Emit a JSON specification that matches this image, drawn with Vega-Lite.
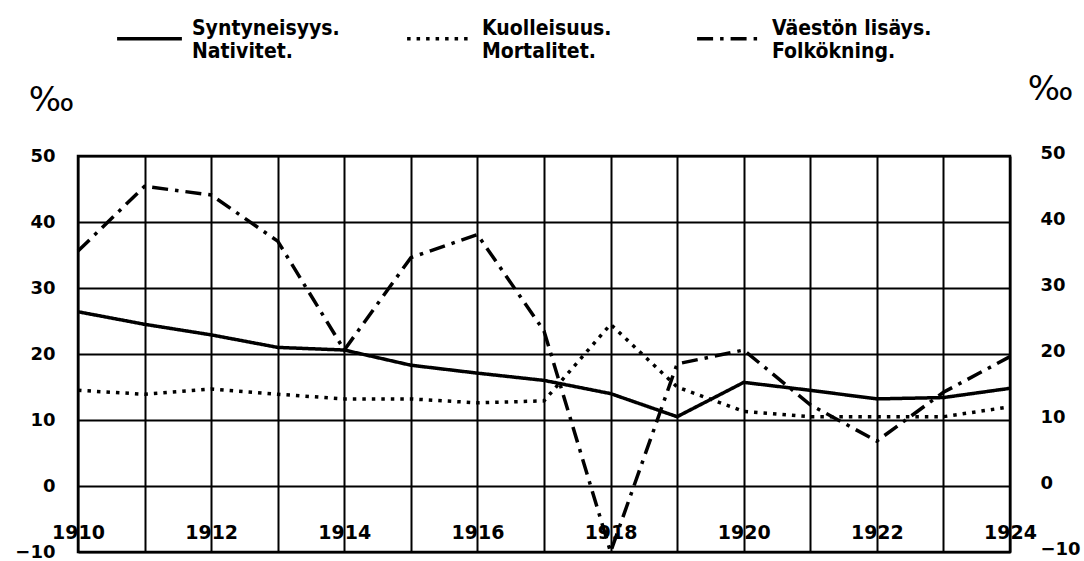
{
  "$schema": "https://vega.github.io/schema/vega-lite/v6.json",
  "width": 932,
  "height": 396,
  "autosize": {"type": "none"},
  "padding": {"left": 78, "top": 156, "right": 74, "bottom": 9},
  "background": "white",
  "config": {"view": {"stroke": "black", "strokeWidth": 2.5}, "font": "DejaVu Sans"},
  "data": {"values": [
    {"year": 1910, "serie": "Nativitet.", "value": 26.4},
    {"year": 1911, "serie": "Nativitet.", "value": 24.5},
    {"year": 1912, "serie": "Nativitet.", "value": 22.9},
    {"year": 1913, "serie": "Nativitet.", "value": 21.0},
    {"year": 1914, "serie": "Nativitet.", "value": 20.6},
    {"year": 1915, "serie": "Nativitet.", "value": 18.3},
    {"year": 1916, "serie": "Nativitet.", "value": 17.1},
    {"year": 1917, "serie": "Nativitet.", "value": 16.0},
    {"year": 1918, "serie": "Nativitet.", "value": 14.0},
    {"year": 1919, "serie": "Nativitet.", "value": 10.5},
    {"year": 1920, "serie": "Nativitet.", "value": 15.7},
    {"year": 1921, "serie": "Nativitet.", "value": 14.5},
    {"year": 1922, "serie": "Nativitet.", "value": 13.2},
    {"year": 1923, "serie": "Nativitet.", "value": 13.4},
    {"year": 1924, "serie": "Nativitet.", "value": 14.8},
    {"year": 1910, "serie": "Mortalitet.", "value": 14.5},
    {"year": 1911, "serie": "Mortalitet.", "value": 13.9},
    {"year": 1912, "serie": "Mortalitet.", "value": 14.7},
    {"year": 1913, "serie": "Mortalitet.", "value": 13.9},
    {"year": 1914, "serie": "Mortalitet.", "value": 13.2},
    {"year": 1915, "serie": "Mortalitet.", "value": 13.2},
    {"year": 1916, "serie": "Mortalitet.", "value": 12.6},
    {"year": 1917, "serie": "Mortalitet.", "value": 12.9},
    {"year": 1918, "serie": "Mortalitet.", "value": 24.5},
    {"year": 1919, "serie": "Mortalitet.", "value": 15.0},
    {"year": 1920, "serie": "Mortalitet.", "value": 11.3},
    {"year": 1921, "serie": "Mortalitet.", "value": 10.5},
    {"year": 1922, "serie": "Mortalitet.", "value": 10.5},
    {"year": 1923, "serie": "Mortalitet.", "value": 10.5},
    {"year": 1924, "serie": "Mortalitet.", "value": 12.0},
    {"year": 1910, "serie": "Folkökning.", "value": 35.6},
    {"year": 1911, "serie": "Folkökning.", "value": 45.4},
    {"year": 1912, "serie": "Folkökning.", "value": 44.1},
    {"year": 1913, "serie": "Folkökning.", "value": 37.1},
    {"year": 1914, "serie": "Folkökning.", "value": 20.6},
    {"year": 1915, "serie": "Folkökning.", "value": 34.6},
    {"year": 1916, "serie": "Folkökning.", "value": 38.1},
    {"year": 1917, "serie": "Folkökning.", "value": 23.5},
    {"year": 1918, "serie": "Folkökning.", "value": -10.0},
    {"year": 1919, "serie": "Folkökning.", "value": 18.5},
    {"year": 1920, "serie": "Folkökning.", "value": 20.6},
    {"year": 1921, "serie": "Folkökning.", "value": 12.3},
    {"year": 1922, "serie": "Folkökning.", "value": 6.8},
    {"year": 1923, "serie": "Folkökning.", "value": 14.2},
    {"year": 1924, "serie": "Folkökning.", "value": 19.6}
  ]},
  "encoding": {
    "x": {
      "field": "year", "type": "quantitative",
      "scale": {"domain": [1910, 1924], "nice": false, "zero": false},
      "axis": {
        "values": [1910, 1911, 1912, 1913, 1914, 1915, 1916, 1917, 1918, 1919, 1920, 1921, 1922, 1923, 1924],
        "format": "d",
        "labelExpr": "datum.value % 2 == 0 ? datum.label : ''",
        "grid": true, "gridColor": "black", "gridWidth": 2, "gridOpacity": 1,
        "ticks": false, "domain": false,
        "labelPadding": -20, "labelBaseline": "middle", "labelFlush": false, "labelOverlap": false,
        "labelFontSize": 19, "labelFontWeight": "bold", "labelColor": "black",
        "title": null
      }
    }
  },
  "layer": [
    {
      "mark": {"type": "line", "strokeWidth": 3.5, "color": "black"},
      "encoding": {
        "y": {
          "field": "value", "type": "quantitative",
          "scale": {"domain": [-10, 50], "nice": false, "zero": false},
          "axis": {
            "orient": "left",
            "values": [-10, 0, 10, 20, 30, 40, 50],
            "grid": true, "gridColor": "black", "gridWidth": 2, "gridOpacity": 1,
            "ticks": false, "domain": false,
            "labelPadding": 23, "labelFontSize": 18, "labelFontWeight": "bold", "labelColor": "black",
            "labelFlush": false, "labelOverlap": false,
            "title": "‰", "titleAngle": 0, "titleX": -27, "titleY": -56,
            "titleAlign": "center", "titleBaseline": "middle", "titleFontSize": 34,
            "titleFontWeight": "normal", "titleColor": "black"
          }
        },
        "strokeDash": {
          "field": "serie", "type": "nominal",
          "scale": {
            "domain": ["Nativitet.", "Mortalitet.", "Folkökning."],
            "range": [[1, 0], [3.5, 6], [16, 7, 3.5, 7]]
          },
          "legend": {
            "orient": "none", "legendX": 37, "legendY": -152,
            "direction": "horizontal", "columns": 3, "gridAlign": "all", "columnPadding": 48,
            "symbolType": "stroke", "symbolSize": 4200, "symbolStrokeWidth": 3.5,
            "symbolStrokeColor": "black",
            "labelExpr": "datum.value == 'Nativitet.' ? ['Syntyneisyys.', 'Nativitet.'] : datum.value == 'Mortalitet.' ? ['Kuolleisuus.', 'Mortalitet.'] : ['Väestön lisäys.', 'Folkökning.']",
            "labelFont": "DejaVu Sans Condensed, Liberation Sans Narrow, DejaVu Sans",
            "labelFontSize": 21, "labelFontWeight": "bold", "labelColor": "black",
            "labelBaseline": "bottom",
            "labelOffset": 8, "labelLimit": 0,
            "title": null
          }
        }
      }
    },
    {
      "mark": {"type": "point", "opacity": 0},
      "encoding": {
        "y": {
          "field": "value", "type": "quantitative",
          "axis": {
            "orient": "right",
            "values": [-10, 0, 10, 20, 30, 40, 50],
            "grid": false, "ticks": false, "domain": false,
            "labelPadding": 30, "labelOffset": -3, "labelFontSize": 18, "labelFontWeight": "bold", "labelColor": "black",
            "labelFlush": false, "labelOverlap": false,
            "title": "‰", "titleAngle": 0, "titleX": 40, "titleY": -67,
            "titleAlign": "center", "titleBaseline": "middle", "titleFontSize": 34,
            "titleFontWeight": "normal", "titleColor": "black"
          }
        }
      }
    }
  ],
  "resolve": {"axis": {"y": "independent"}}
}
